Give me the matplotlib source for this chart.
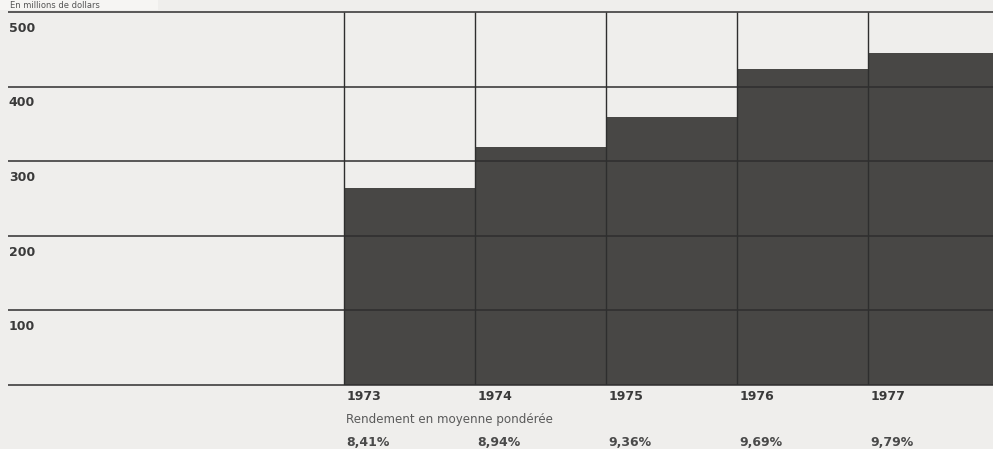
import matplotlib.pyplot as plt
from matplotlib.patches import Rectangle

years = ["1973", "1974", "1975", "1976", "1977"]
values = [264, 319, 359, 424, 445]
rendements = ["8,41%", "8,94%", "9,36%", "9,69%", "9,79%"]
yticks = [100, 200, 300, 400, 500]

W, H = 993, 449
fig = plt.figure(figsize=(W / 100, H / 100), dpi=100, facecolor="#efeeec")

# axes: baseline at y=385 px, 500 at y=12 px; bar edges 344 px + 131 px each
x0_px, bw_px = 344, 131
ax = fig.add_axes([0, (H - 385) / H, 1, (385 - 12) / H])
ax.set_facecolor("none")
ax.set_xlim(-x0_px / bw_px, (W - x0_px) / bw_px)
ax.set_ylim(0, 500)
ax.axis("off")

xs = list(range(len(years)))
ax.bar(xs, values, width=1, align="edge", color="#484745", zorder=1)

left = -(x0_px - 8) / bw_px
right = (W - x0_px) / bw_px
ax.hlines([0] + yticks, left, right, color="#2e2e2e", lw=1.1, zorder=2, clip_on=False)
ax.vlines(xs, 0, 500, color="#2e2e2e", lw=1.0, zorder=2)

bold = dict(fontsize=9, fontweight="bold", family="DejaVu Sans")

for v in yticks:
    ax.annotate(str(v), (left, v), xytext=(0.5, -7), textcoords="offset points",
                va="top", ha="left", color="#3a3a3a", **bold)

for i, (yr, r) in enumerate(zip(years, rendements)):
    ax.annotate(yr, (i, 0), xytext=(1.5, -3.5), textcoords="offset points",
                va="top", ha="left", color="#3a3a3a", annotation_clip=False, **bold)
    ax.annotate(r, (i, 0), xytext=(1.5, -37), textcoords="offset points",
                va="top", ha="left", color="#4a4a4a", annotation_clip=False, **bold)

ax.annotate("Rendement en moyenne pondérée", (0, 0), xytext=(1.5, -20.5),
            textcoords="offset points", va="top", ha="left", fontsize=8.6,
            color="#5a5a5a", family="DejaVu Sans", annotation_clip=False)

# header label above the top rule
fig.patches.append(Rectangle((0, 1 - 10 / H), 158 / W, 10 / H, transform=fig.transFigure,
                             facecolor="#f6f5f3", edgecolor="none", zorder=0))
fig.text(10 / W, 1 - 1 / H, "En millions de dollars", va="top", ha="left",
         fontsize=6, color="#555555", family="DejaVu Sans")

fig.savefig("out.png", dpi=100, facecolor=fig.get_facecolor())
